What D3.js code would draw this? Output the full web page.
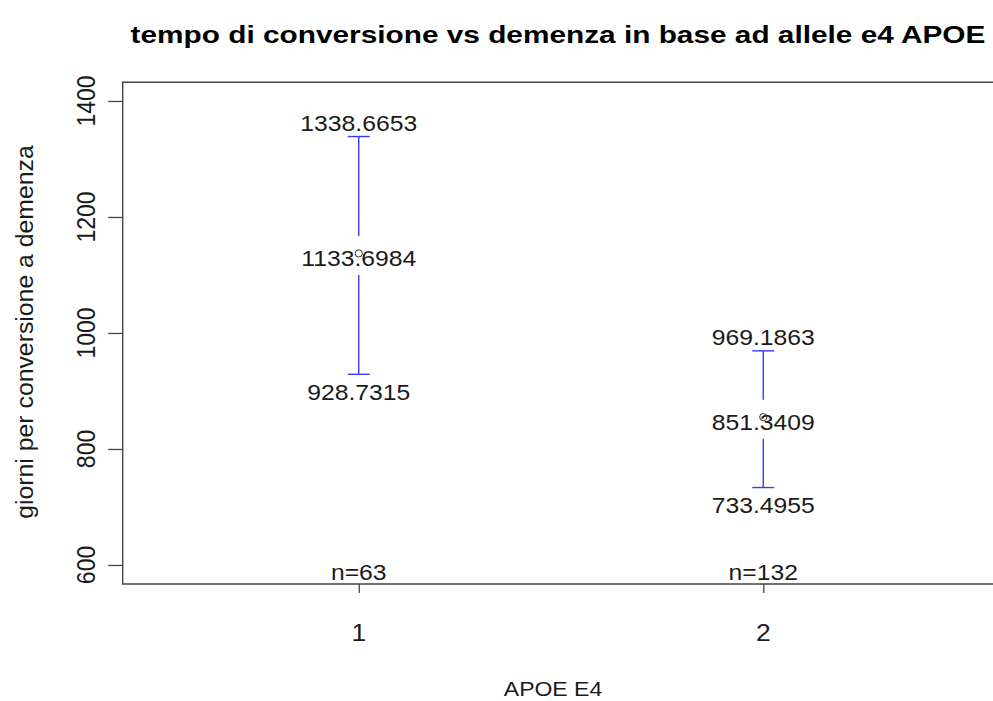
<!DOCTYPE html>
<html>
<head>
<meta charset="utf-8">
<script src="https://cdn.jsdelivr.net/npm/d3@7"></script>
<style>
  body { margin: 0; background: #fff; }
  text { font-family: "Liberation Sans", Arial, sans-serif; fill: #1a1a1a; }
</style>
</head>
<body>
<div id="chart-area"></div>
<script>
// values
var groups = [1, 2];
var means = [1133.6984, 851.3409];
var ciLower = [928.7315, 733.4955];
var ciUpper = [1338.6653, 969.1863];
var counts = [63, 132];
var yTicks = [600, 800, 1000, 1200, 1400];

var width = 993, height = 701;
var box = {left: 122.7, top: 82.3, bottom: 584, right: 999.3};
var sx = 1.15; // picture is stretched sideways

var svg = d3.select("#chart-area")
  .append("svg")
    .attr("width", width)
    .attr("height", height);

var x = d3.scaleLinear()
  .domain([0.4165, 2.5835])
  .range([box.left, box.right]);

var y = d3.scaleLinear()
  .domain([567.2, 1432.2])
  .range([box.bottom, box.top]);

var data = groups.map(function(g, i) {
  return {g: g, mean: means[i], lo: ciLower[i], hi: ciUpper[i], n: counts[i]};
});

function label(sel, px, py, txt, size, rot) {
  sel.append("text")
    .attr("transform", "translate(" + px + "," + py + ") scale(" + sx + ",1)" + (rot ? " rotate(-90)" : ""))
    .attr("text-anchor", "middle")
    .attr("font-size", size + "px")
    .text(txt);
}

// title
var title = svg.append("text")
  .attr("font-size", "24px")
  .attr("font-weight", "bold")
  .attr("text-anchor", "middle")
  .style("fill", "#000")
  .text("tempo di conversione vs demenza in base ad allele e4 APOE");
var tl = title.node().getComputedTextLength();
title.attr("transform", "translate(558,43) scale(" + (855 / tl) + ",1)");

// axes
var leftAxis = d3.axisLeft(y).tickValues(yTicks).tickSize(14.5).tickFormat(function(d) { return ""; });
var ga = svg.append("g")
  .attr("transform", "translate(" + box.left + ",0)")
  .call(leftAxis);
ga.select(".domain").remove();
ga.selectAll("line").attr("stroke", "#444").attr("stroke-width", 1.3);
yTicks.forEach(function(t) { label(svg, 95, y(t), t, 23, true); });

var bottomAxis = d3.axisBottom(x).tickValues(groups).tickSize(9).tickFormat(function(d) { return ""; });
var gb = svg.append("g")
  .attr("transform", "translate(0," + box.bottom + ")")
  .call(bottomAxis);
gb.select(".domain").remove();
gb.selectAll("line").attr("stroke", "#444").attr("stroke-width", 1.3);
groups.forEach(function(g) { label(svg, x(g), 641, g, 23, false); });

// plot box (right side falls outside the picture)
svg.append("path")
  .attr("d", "M" + box.right + "," + box.top + "H" + box.left + "V" + box.bottom + "H" + box.right)
  .attr("fill", "none")
  .attr("stroke", "#444")
  .attr("stroke-width", 1.4);

// axis titles
label(svg, 553, 696, "APOE E4", 20, false);
svg.append("text")
  .attr("transform", "translate(33,332) rotate(-90)")
  .attr("text-anchor", "middle")
  .attr("font-size", "24.8px")
  .text("giorni per conversione a demenza");

// error bars with a gap around the mean
var gap = 19.5, cap = 11;
var bars = svg.selectAll(".ci").data(data).enter().append("g").attr("class", "ci");
bars.append("line")
  .attr("x1", function(d) { return x(d.g); }).attr("x2", function(d) { return x(d.g); })
  .attr("y1", function(d) { return y(d.hi); }).attr("y2", function(d) { return y(d.mean) - gap; });
bars.append("line")
  .attr("x1", function(d) { return x(d.g); }).attr("x2", function(d) { return x(d.g); })
  .attr("y1", function(d) { return y(d.mean) + gap; }).attr("y2", function(d) { return y(d.lo); });
bars.append("line")
  .attr("x1", function(d) { return x(d.g) - cap; }).attr("x2", function(d) { return x(d.g) + cap; })
  .attr("y1", function(d) { return y(d.hi); }).attr("y2", function(d) { return y(d.hi); });
bars.append("line")
  .attr("x1", function(d) { return x(d.g) - cap; }).attr("x2", function(d) { return x(d.g) + cap; })
  .attr("y1", function(d) { return y(d.lo); }).attr("y2", function(d) { return y(d.lo); });
bars.selectAll("line").attr("stroke", "#3a3aff").attr("stroke-width", 1.4);

// mean point
bars.append("circle")
  .attr("cx", function(d) { return x(d.g); })
  .attr("cy", function(d) { return y(d.mean) - 2; })
  .attr("r", 3.6)
  .attr("fill", "none")
  .attr("stroke", "#333")
  .attr("stroke-width", 1);

// value labels
data.forEach(function(d) {
  label(svg, x(d.g), y(d.hi) - 5.5, d.hi.toFixed(4), 21.5, false);
  label(svg, x(d.g), y(d.mean) + 10.7, d.mean.toFixed(4), 21.5, false);
  label(svg, x(d.g), y(d.lo) + 25.5, d.lo.toFixed(4), 21.5, false);
  label(svg, x(d.g), 580, "n=" + d.n, 21.5, false);
});
</script>
</body>
</html>
